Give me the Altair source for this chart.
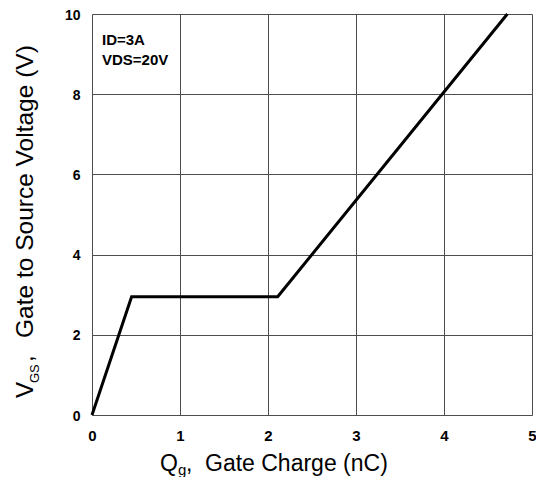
import altair as alt
import pandas as pd

# Gate charge curve (Qg in nC, VGS in V)
qg = [0.0, 0.45, 2.11, 4.72]
vgs = [0.0, 2.95, 2.95, 10.0]

x_ticks = [0, 1, 2, 3, 4, 5]
y_ticks = [0, 2, 4, 6, 8, 10]

notes = ["ID=3A", "VDS=20V"]

W, H = 440, 401
FONT = "Liberation Sans, Arial, sans-serif"
GRID = "#4d4d4d"

df = pd.DataFrame({"qg": qg, "vgs": vgs})

line = alt.Chart(df).mark_line(color="black", strokeWidth=3).encode(
    x=alt.X("qg:Q", scale=alt.Scale(domain=[0, 5], nice=False),
            axis=alt.Axis(values=x_ticks, title=None, grid=True, gridColor=GRID,
                          gridOpacity=1, gridWidth=1, domain=False, ticks=False, tickSize=0,
                          labelPadding=13, labelFont=FONT, labelFontSize=15,
                          labelFontWeight="bold", labelColor="black", labelFlush=False)),
    y=alt.Y("vgs:Q", scale=alt.Scale(domain=[0, 10], nice=False),
            axis=alt.Axis(values=y_ticks, title=None, grid=True, gridColor=GRID,
                          gridOpacity=1, gridWidth=1, domain=False, ticks=False, tickSize=0,
                          labelPadding=12, labelFont=FONT, labelFontSize=14, labelOffset=1,
                          labelFontWeight="bold", labelColor="black", labelFlush=False)),
)

note_df = pd.DataFrame({"t": notes, "yy": [31, 51]})
note = alt.Chart(note_df).mark_text(
    align="left", baseline="alphabetic", font="Liberation Sans Narrow, Liberation Sans, sans-serif",
    fontSize=15, fontWeight="bold", color="black"
).encode(text="t:N", x=alt.value(10), y=alt.Y("yy:Q", scale=None))


def txt(s, x, y, size, angle=0):
    return alt.Chart(pd.DataFrame({"t": [s]})).mark_text(
        align="left", baseline="alphabetic", font=FONT, fontSize=size,
        color="black", angle=angle
    ).encode(text="t:N", x=alt.value(x), y=alt.value(y))


x_title = [
    txt("Q", 68, 457, 23),
    txt("g", 86, 461, 15),
    txt(",", 94, 457, 23),
    txt("Gate Charge (nC)", 113, 457, 23),
]
y_title = [
    txt("V", -59, 384, 24, 270),
    txt("GS", -53, 369, 13, 270),
    txt(",", -59, 348, 24, 270),
    txt("Gate to Source Voltage (V)", -59, 324, 24.5, 270),
]

chart = alt.layer(line, note, *x_title, *y_title).properties(
    width=W, height=H,
    autosize=alt.AutoSizeParams(type="none"),
    padding={"left": 84, "top": 6, "right": 4, "bottom": 62},
).configure_view(stroke=GRID, strokeWidth=1).configure(background="white")

chart.save("out.html", embed_options={"renderer": "svg", "actions": False})
